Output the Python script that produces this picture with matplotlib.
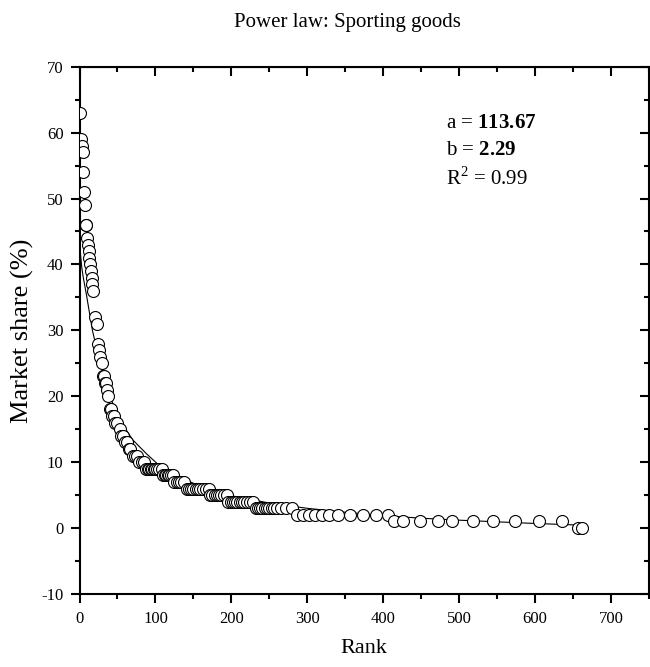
import matplotlib
matplotlib.use("Agg")
import matplotlib.pyplot as plt
from matplotlib.ticker import MultipleLocator

plt.rcParams['font.family'] = ['Liberation Serif', 'DejaVu Serif']
plt.rcParams['mathtext.fontset'] = 'custom'
plt.rcParams['mathtext.rm'] = 'Liberation Serif'
plt.rcParams['mathtext.bf'] = 'Liberation Serif:bold'
plt.rcParams['axes.unicode_minus'] = False

# Observed data (rank, market share %)
rank = [1, 2, 3, 4, 5, 6, 7, 8, 9, 10, 11, 12, 13, 14, 15, 16, 17, 18,
        21, 23, 25, 26, 27, 29, 31, 32, 33, 35, 36, 38, 40, 41, 43, 45,
        47, 50, 53, 55, 57, 60, 62, 65, 67, 70, 73, 76,
        79, 82, 85,
        88, 90, 92, 94, 96, 98, 100, 102, 105, 108,
        110, 112, 114, 116, 118, 120, 123,
        125, 128, 131, 134, 138,
        141, 144, 147, 150, 153, 156, 159, 162, 166, 170,
        172, 175, 178, 181, 184, 187, 190, 194,
        196, 199, 202, 205, 208, 211, 214, 217, 220, 224, 228,
        232, 235, 238, 241, 244, 247, 250, 253, 256, 260, 266, 272, 280,
        286, 294, 302, 310, 320, 329, 340, 356, 374, 391, 406,
        414, 426, 448, 472, 490, 518, 545, 574, 605, 636,
        656, 662]
share = [63, 59, 58, 57, 54, 51, 49, 46, 46, 44, 43, 42, 41, 40, 39, 38, 37, 36,
         32, 31, 28, 27, 26, 25, 23, 23, 22, 22, 21, 20, 18, 18, 17, 17,
         16, 16, 15, 14, 14, 13, 13, 12, 12, 11, 11, 11,
         10, 10, 10,
         9, 9, 9, 9, 9, 9, 9, 9, 9, 9,
         8, 8, 8, 8, 8, 8, 8,
         7, 7, 7, 7, 7,
         6, 6, 6, 6, 6, 6, 6, 6, 6, 6,
         5, 5, 5, 5, 5, 5, 5, 5,
         4, 4, 4, 4, 4, 4, 4, 4, 4, 4, 4,
         3, 3, 3, 3, 3, 3, 3, 3, 3, 3, 3, 3, 3,
         2, 2, 2, 2, 2, 2, 2, 2, 2, 2, 2,
         1, 1, 1, 1, 1, 1, 1, 1, 1, 1,
         0, 0]

# Fitted curve
fit_rank = [0.3, 1, 3, 5, 9, 17, 28, 40, 53, 70, 88, 105, 130, 160, 200,
            250, 300, 350, 400, 450, 500, 550, 600, 660]
fit_share = [46, 42, 39.5, 38, 35.5, 30, 24.5, 20, 16.4, 13.4, 11.3, 9.5,
             7.8, 6.3, 4.9, 3.8, 3.0, 2.4, 1.9, 1.5, 1.2, 0.95, 0.7, 0.45]

fig = plt.figure(figsize=(6.5, 6.67), dpi=100)
ax = fig.add_axes([79.5/650, 1-594/667, (649-79.5)/650, (594-66.7)/667])

ax.plot(fit_rank, fit_share, color='black', lw=0.8, zorder=2)
ax.plot(rank, share, linestyle='none', marker='o', markersize=8.6,
        markerfacecolor='white', markeredgecolor='black', markeredgewidth=0.8,
        zorder=3)

ax.set_xlim(0, 750)
ax.set_ylim(-10, 70)
ax.xaxis.set_major_locator(MultipleLocator(100))
ax.xaxis.set_minor_locator(MultipleLocator(50))
ax.yaxis.set_major_locator(MultipleLocator(10))
ax.yaxis.set_minor_locator(MultipleLocator(5))

for s in ax.spines.values():
    s.set_linewidth(1.5)

ax.tick_params(which='both', direction='out', width=1.5, labelsize=12,
               top=False, right=False)
ax.tick_params(which='major', length=6.5, pad=5)
ax.tick_params(axis='x', which='major', pad=6)
ax.tick_params(which='minor', length=3.6)

# inward mirrored ticks on top and right
axt = ax.secondary_xaxis('top')
axt.xaxis.set_major_locator(MultipleLocator(100))
axt.xaxis.set_minor_locator(MultipleLocator(50))
axt.tick_params(which='both', direction='in', width=1.5, labeltop=False)
axt.tick_params(which='major', length=6.5)
axt.tick_params(which='minor', length=3.6)
axr = ax.secondary_yaxis('right')
axr.yaxis.set_major_locator(MultipleLocator(10))
axr.yaxis.set_minor_locator(MultipleLocator(5))
axr.tick_params(which='both', direction='in', width=1.5, labelright=False)
axr.tick_params(which='major', length=6.5)
axr.tick_params(which='minor', length=3.6)

ax.set_xlabel('Rank', fontsize=16)
ax.set_ylabel('Market share (%)', fontsize=19)
ax.xaxis.set_label_coords(0.5, -0.085)
ax.yaxis.set_label_coords(-0.08, 0.5)

fig.text(347/650, 1-22/667, 'Power law: Sporting goods', fontsize=15,
         ha='center', va='center')

ax.text(483, 60.7, r'a = $\mathbf{113.67}$', fontsize=15, ha='left', va='baseline')
ax.text(483, 56.6, r'b = $\mathbf{2.29}$', fontsize=15, ha='left', va='baseline')
ax.text(483, 52.1, r'R$^2$ = 0.99', fontsize=15, ha='left', va='baseline')

fig.savefig('out.png', dpi=100)
